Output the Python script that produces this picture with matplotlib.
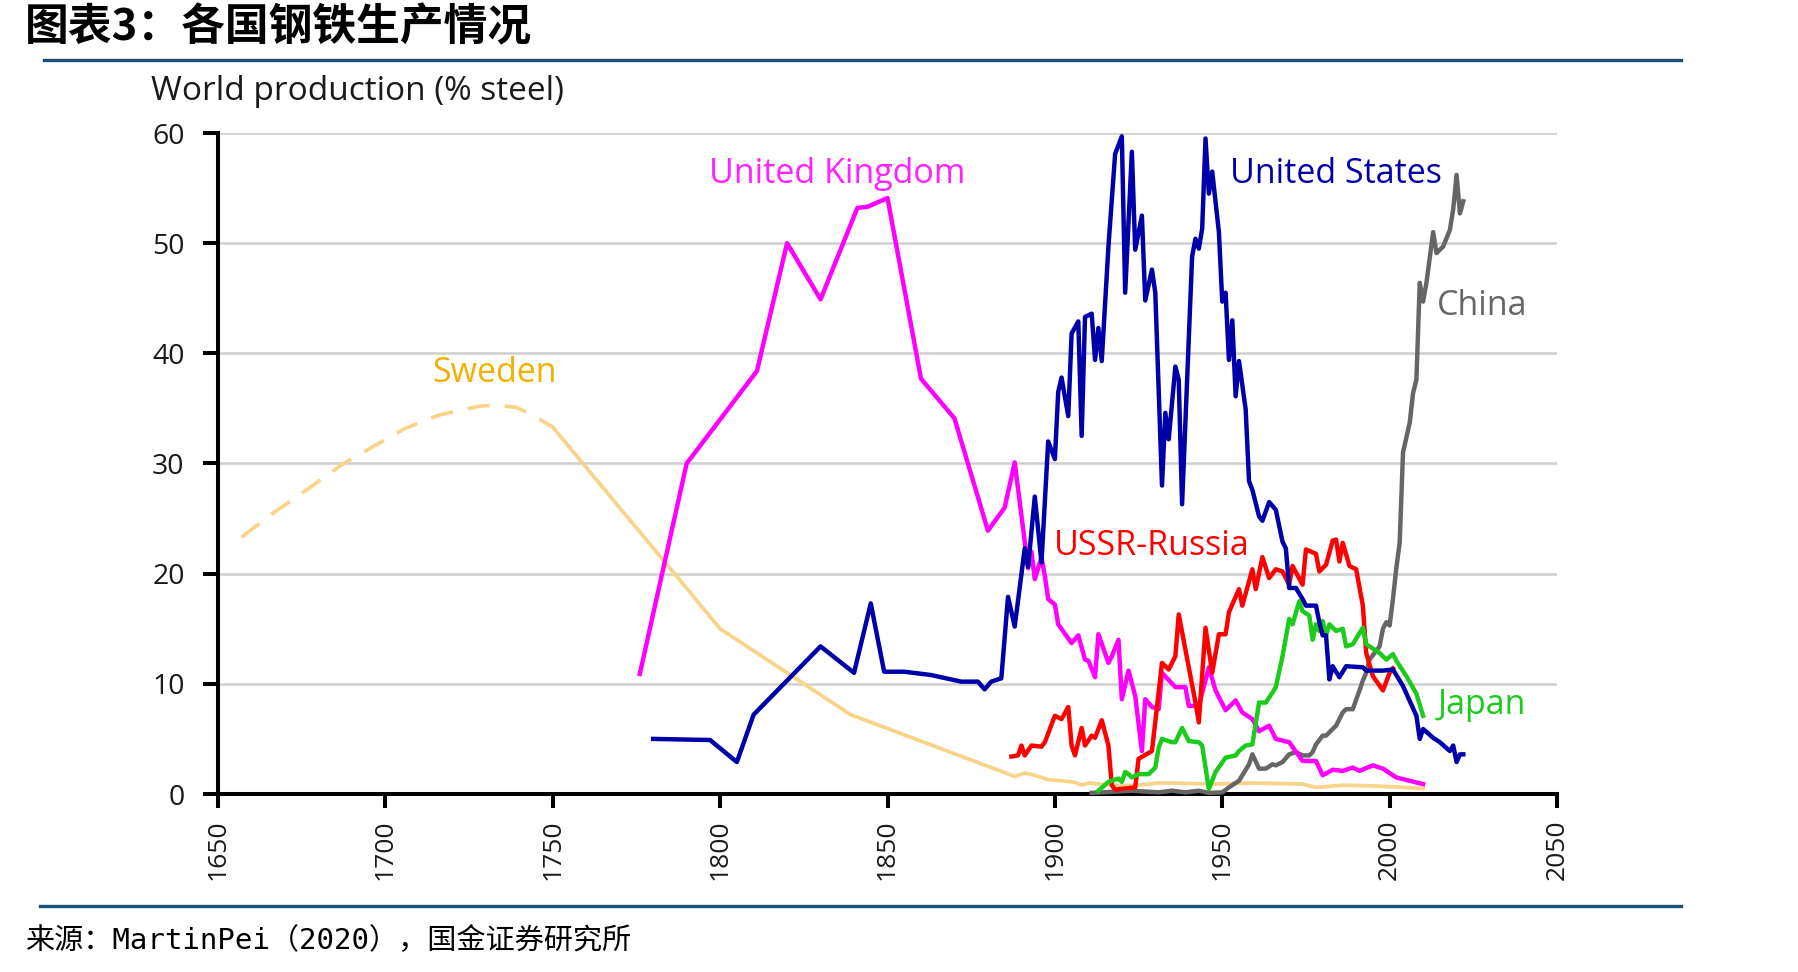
import matplotlib
matplotlib.use("Agg")
import matplotlib.pyplot as plt
from matplotlib.lines import Line2D

# ---- data ----
sweden_early_years = [1657, 1666, 1676, 1687, 1695, 1706, 1716, 1728, 1733, 1739, 1744, 1750]
sweden_early_vals = [23.3, 25.4, 27.5, 29.9, 31.3, 33.2, 34.4, 35.2, 35.3, 35.1, 34.4, 33.3]

sweden_years = [1750, 1800, 1839, 1888, 1891, 1894, 1898, 1902, 1906, 1908, 1910, 1917,
                1923, 1931, 1935, 1946, 1959, 1974, 1978, 1986, 1993, 1998, 2010]
sweden_vals = [33.3, 15.0, 7.2, 1.6, 1.9, 1.7, 1.3, 1.2, 1.06, 0.8, 1.0, 0.8,
               0.75, 1.0, 1.0, 0.9, 1.0, 0.9, 0.6, 0.8, 0.75, 0.7, 0.5]

uk_years = [1776, 1790, 1811, 1820, 1830, 1841, 1844, 1850, 1860, 1870, 1880, 1885,
            1888, 1892, 1893, 1894, 1896, 1897, 1898, 1900, 1901, 1905, 1907, 1909,
            1910, 1912, 1913, 1916, 1917, 1919, 1920, 1922, 1924, 1926, 1927, 1929,
            1931, 1932, 1936, 1939, 1940, 1943, 1946, 1948, 1951, 1954, 1956, 1959,
            1961, 1964, 1966, 1970, 1974, 1978, 1980, 1983, 1986, 1989, 1991, 1995,
            1998, 2002, 2010]
uk_vals = [10.9, 30.0, 38.4, 50.0, 44.9, 53.2, 53.3, 54.1, 37.7, 34.1, 23.9, 26.0,
           30.1, 20.5, 22.0, 19.5, 21.5, 19.8, 17.7, 17.2, 15.4, 13.7, 14.4, 12.2,
           12.1, 10.6, 14.5, 11.9, 12.5, 14.0, 8.6, 11.2, 8.9, 3.9, 8.6, 7.9,
           7.7, 11.0, 9.7, 9.7, 8.0, 8.0, 11.5, 9.4, 7.6, 8.5, 7.4, 6.8,
           5.7, 6.2, 5.0, 4.7, 3.0, 3.0, 1.7, 2.2, 2.1, 2.4, 2.1, 2.6,
           2.3, 1.5, 0.9]

us_years = [1780, 1797, 1805, 1810, 1830, 1840, 1845, 1849, 1855, 1863, 1872, 1877,
            1879, 1881, 1884, 1886, 1888, 1891, 1892, 1894, 1896, 1898, 1900, 1901,
            1902, 1904, 1905, 1907, 1908, 1909, 1911, 1912, 1913, 1914, 1916, 1918,
            1920, 1921, 1923, 1924, 1926, 1927, 1929, 1930, 1932, 1933, 1934, 1936,
            1937, 1938, 1941, 1942, 1943, 1944, 1945, 1946, 1947, 1949, 1950, 1951,
            1952, 1953, 1954, 1955, 1957, 1958, 1959, 1961, 1962, 1964, 1966, 1968,
            1969, 1970, 1972, 1974, 1975, 1978, 1979, 1980, 1981, 1982, 1983, 1985,
            1987, 1992, 1993, 1998, 2001, 2004, 2008, 2009, 2010, 2013, 2015, 2018,
            2019, 2020, 2021, 2022]
us_vals = [5.0, 4.9, 2.9, 7.2, 13.4, 11.0, 17.3, 11.1, 11.1, 10.8, 10.2, 10.2,
           9.5, 10.2, 10.5, 17.9, 15.2, 22.3, 20.6, 27.0, 21.0, 32.0, 30.4, 36.5,
           37.8, 34.3, 41.8, 42.9, 32.5, 43.3, 43.6, 39.4, 42.3, 39.3, 49.7, 58.1,
           59.7, 45.5, 58.3, 49.4, 52.5, 44.8, 47.6, 45.5, 28.0, 34.6, 32.2, 38.8,
           37.6, 26.3, 48.8, 50.4, 49.5, 51.3, 59.5, 54.5, 56.5, 51.0, 44.7, 45.5,
           39.4, 43.0, 36.1, 39.3, 34.9, 28.4, 27.6, 25.2, 24.8, 26.5, 25.8, 22.9,
           22.3, 18.7, 18.7, 17.7, 17.1, 17.1, 15.6, 14.4, 14.4, 10.4, 11.6, 10.6,
           11.6, 11.5, 11.2, 11.2, 11.3, 9.8, 7.1, 5.0, 5.9, 5.1, 4.7, 3.9,
           4.4, 2.9, 3.6, 3.6]

ussr_years = [1887, 1889, 1890, 1891, 1893, 1896, 1897, 1900, 1902, 1904, 1905, 1906,
              1908, 1909, 1911, 1912, 1914, 1916, 1917, 1918, 1924, 1925, 1929, 1932,
              1934, 1936, 1937, 1942, 1943, 1945, 1947, 1949, 1951, 1952, 1955, 1956,
              1959, 1960, 1962, 1964, 1966, 1968, 1970, 1971, 1974, 1975, 1978, 1979,
              1981, 1983, 1984, 1985, 1986, 1988, 1990, 1992, 1993, 1995, 1998, 2000,
              2001]
ussr_vals = [3.4, 3.5, 4.4, 3.5, 4.4, 4.3, 4.7, 7.1, 6.8, 7.9, 4.4, 3.5,
             6.0, 4.4, 5.3, 5.1, 6.7, 4.4, 0.8, 0.4, 0.6, 3.2, 3.9, 11.9,
             11.3, 12.5, 16.3, 8.3, 6.5, 15.1, 11.0, 14.5, 14.5, 16.5, 18.6, 17.1,
             20.4, 18.6, 21.5, 19.6, 20.4, 20.2, 19.0, 20.7, 19.0, 22.2, 21.8, 20.2,
             20.8, 23.0, 23.1, 21.1, 22.8, 20.7, 20.4, 17.1, 12.8, 10.7, 9.4, 11.0,
             11.4]

japan_years = [1913, 1916, 1919, 1920, 1921, 1922, 1923, 1925, 1928, 1930, 1931, 1932,
               1935, 1936, 1938, 1939, 1940, 1943, 1944, 1946, 1948, 1951, 1954, 1955,
               1957, 1959, 1961, 1963, 1965, 1966, 1968, 1970, 1971, 1973, 1974, 1976,
               1977, 1978, 1979, 1980, 1981, 1982, 1984, 1986, 1987, 1989, 1992, 1993,
               1996, 1997, 1999, 2001, 2002, 2005, 2008, 2010]
japan_vals = [0.3, 1.1, 1.4, 1.1, 2.0, 1.8, 1.5, 1.8, 1.8, 2.4, 4.2, 5.0,
              4.7, 4.7, 6.0, 5.4, 4.8, 4.7, 4.4, 0.45, 2.0, 3.3, 3.5, 3.9,
              4.4, 4.5, 8.3, 8.3, 9.2, 9.7, 12.5, 15.9, 15.4, 17.5, 16.6, 16.2,
              14.0, 15.4, 14.8, 15.7, 14.4, 15.4, 14.8, 15.0, 13.4, 13.6, 15.1, 13.6,
              13.0, 12.8, 12.2, 12.7, 12.1, 10.7, 9.1, 7.1]

china_years = [1911, 1923, 1931, 1935, 1939, 1943, 1946, 1950, 1952, 1955, 1958, 1959,
               1961, 1963, 1965, 1966, 1968, 1970, 1972, 1974, 1976, 1977, 1978, 1980,
               1981, 1983, 1984, 1986, 1987, 1989, 1991, 1992, 1993, 1994, 1997, 1998,
               1999, 2000, 2001, 2002, 2003, 2004, 2006, 2007, 2008, 2009, 2010, 2011,
               2013, 2014, 2016, 2018, 2019, 2020, 2021, 2022]
china_vals = [0.1, 0.3, 0.15, 0.3, 0.15, 0.3, 0.1, 0.15, 0.6, 1.2, 2.7, 3.6,
              2.3, 2.3, 2.7, 2.6, 2.9, 3.6, 3.8, 3.5, 3.5, 3.8, 4.5, 5.3,
              5.3, 5.9, 6.2, 7.4, 7.7, 7.7, 9.4, 10.3, 11.0, 12.2, 13.4, 15.0,
              15.6, 15.3, 17.7, 20.5, 22.8, 31.0, 33.7, 36.4, 37.6, 46.4, 44.7, 46.4,
              51.0, 49.1, 49.7, 51.2, 53.1, 56.2, 52.7, 53.8]

x_ticks = [1650, 1700, 1750, 1800, 1850, 1900, 1950, 2000, 2050]
y_ticks = [0, 10, 20, 30, 40, 50, 60]

# ---- figure ----
W, H = 1799, 972
fig = plt.figure(figsize=(W / 100, H / 100), dpi=100)
ax = fig.add_axes([218 / W, 1 - 794 / H, (1557 - 218) / W, (794 - 133) / H])

font = "Open Sans"
cjk = ["Noto Sans CJK SC", "DejaVu Sans"]

lw = 3.2
sw_col = "#f8d48a"
ax.plot(sweden_early_years, sweden_early_vals, color=sw_col, lw=2.7,
        ls=(0, (6, 4)), clip_on=False, zorder=3)
ax.plot(sweden_years, sweden_vals, color=sw_col, lw=2.7, clip_on=False, zorder=3)
ax.plot(china_years, china_vals, color="#666666", lw=lw, clip_on=False, zorder=4)
ax.plot(uk_years, uk_vals, color="#ff00ff", lw=lw, clip_on=False, zorder=5)
ax.plot(ussr_years, ussr_vals, color="#ff0000", lw=lw, clip_on=False, zorder=6)
ax.plot(japan_years, japan_vals, color="#1ccc1c", lw=lw, clip_on=False, zorder=7)
ax.plot(us_years, us_vals, color="#0000aa", lw=lw, clip_on=False, zorder=8)

# series labels
lab = dict(fontsize=24.5, family=font, ha="center", va="center")
ax.text(1835, 56.3, "United Kingdom", color="#ff22ff", **lab)
ax.text(1984, 56.3, "United States", color="#0000aa", **lab)
ax.text(2027.5, 44.3, "China", color="#666666", **lab)
ax.text(1732.5, 38.2, "Sweden", color="#f2b100", **lab)
ax.text(1929, 22.5, "USSR-Russia", color="#ff0000", **lab)
ax.text(2027.5, 8.1, "Japan", color="#1ccc1c", **lab)

ax.set_xlim(1650, 2050)
ax.set_ylim(0, 60)
ax.set_xticks(x_ticks)
ax.set_yticks(y_ticks)
ax.set_xticklabels([str(t) for t in x_ticks], rotation=90, family=font, fontsize=19)
ax.set_yticklabels([str(t) for t in y_ticks], family=font, fontsize=20.5)
ax.tick_params(axis="y", direction="out", length=11, width=2.9, pad=13, colors="#000000",
               labelcolor="#1a1a1a")
ax.tick_params(axis="x", direction="out", length=10, width=2.9, pad=8, colors="#000000",
               labelcolor="#1a1a1a")

ax.grid(axis="y", color="#cfcfcf", lw=1.8)
ax.set_axisbelow(True)
for s in ("top", "right"):
    ax.spines[s].set_visible(False)
for s in ("left", "bottom"):
    ax.spines[s].set_linewidth(2.9)
    ax.spines[s].set_color("#000000")

fig.text(151 / W, 1 - 92 / H, "World production (% steel)", family=font, fontsize=24,
         color="#1a1a1a", va="center", ha="left")

# report frame
fig.text(25 / W, 1 - 27 / H, "图表3：各国钢铁生产情况", family=cjk, fontsize=31.5,
         fontweight="bold", color="#000000", va="center", ha="left")
fig.add_artist(Line2D([44 / W, 1681 / W], [1 - 60 / H, 1 - 60 / H],
                      color="#1a4f7a", lw=2.4, transform=fig.transFigure))
fig.add_artist(Line2D([40 / W, 1681 / W], [1 - 906 / H, 1 - 906 / H],
                      color="#1a4f7a", lw=2.4, transform=fig.transFigure))
fig.text(25 / W, 1 - 941 / H, "来源：MartinPei（2020），国金证券研究所",
         family=["DejaVu Sans Mono", "Noto Sans CJK SC"], fontsize=21,
         color="#000000", va="center", ha="left")

fig.savefig("out.png", dpi=100)
